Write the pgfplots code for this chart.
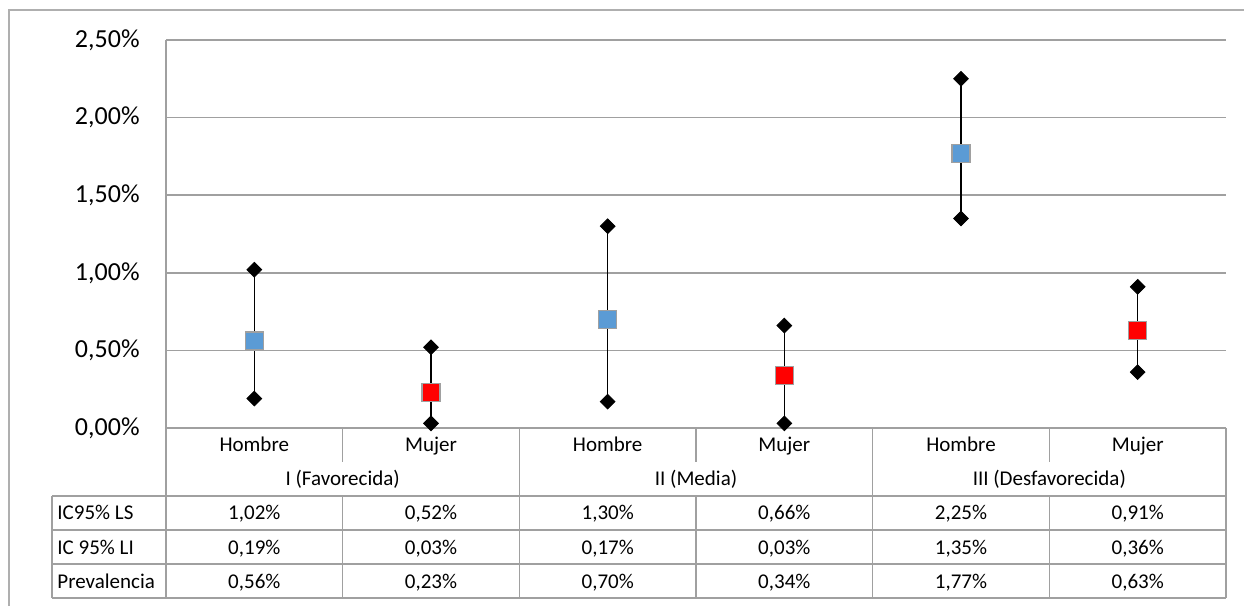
\documentclass[border=0pt]{standalone}
\usepackage{pgfplots}
\pgfplotsset{compat=1.18}
\usepackage{pgfplotstable}
\usepackage{fontspec}
\setmainfont{Carlito}
\definecolor{gridc}{RGB}{160,160,160}
\definecolor{framec}{RGB}{175,175,175}
\definecolor{hblue}{RGB}{91,155,213}
\definecolor{mred}{RGB}{255,0,0}
\definecolor{mkborder}{RGB}{160,160,160}

\pgfplotstableread{
x ls li prev
0 1.02 0.19 0.56
2 1.30 0.17 0.70
4 2.25 1.35 1.77
}\hombre
\pgfplotstableread{
x ls li prev
1 0.52 0.03 0.23
3 0.66 0.03 0.34
5 0.91 0.36 0.63
}\mujer

\begin{document}
\begin{tikzpicture}
\path[use as bounding box] (0,0) rectangle (622pt,303pt);
\begin{axis}[
  at={(83pt,89pt)}, anchor=south west,
  scale only axis, width=530pt, height=194pt,
  xmin=-0.5, xmax=5.5, ymin=0, ymax=2.5,
  axis x line*=bottom, axis y line*=left,
  axis line style={gridc, line width=0.75pt, -},
  xtick=\empty,
  ytick={0,0.5,1,1.5,2,2.5},
  yticklabels={{0,00\%},{0,50\%},{1,00\%},{1,50\%},{2,00\%},{2,50\%}},
  major tick length=0pt,
  ymajorgrids, grid style={gridc, line width=0.75pt},
  yticklabel style={font=\fontsize{13pt}{15pt}\selectfont, inner sep=0pt, xshift=-13pt},
  clip=false,
]
% high-low lines
\addplot[only marks, mark=none, forget plot,
  error bars/.cd, y dir=both, y explicit, error mark=none,
  error bar style={black, line width=0.75pt}]
  table[x=x, y=prev, y error plus expr=\thisrow{ls}-\thisrow{prev},
        y error minus expr=\thisrow{prev}-\thisrow{li}] {\hombre};
\addplot[only marks, mark=none, forget plot,
  error bars/.cd, y dir=both, y explicit, error mark=none,
  error bar style={black, line width=0.75pt}]
  table[x=x, y=prev, y error plus expr=\thisrow{ls}-\thisrow{prev},
        y error minus expr=\thisrow{prev}-\thisrow{li}] {\mujer};
% IC limits
\addplot[only marks, mark=square*, mark size=2.6pt, mark options={rotate=45, fill=black, draw=black}] table[x=x, y=ls] {\hombre};
\addplot[only marks, mark=square*, mark size=2.6pt, mark options={rotate=45, fill=black, draw=black}] table[x=x, y=li] {\hombre};
\addplot[only marks, mark=square*, mark size=2.6pt, mark options={rotate=45, fill=black, draw=black}] table[x=x, y=ls] {\mujer};
\addplot[only marks, mark=square*, mark size=2.6pt, mark options={rotate=45, fill=black, draw=black}] table[x=x, y=li] {\mujer};
% prevalence
\addplot[only marks, mark=square*, mark size=4.5pt, mark options={fill=hblue, draw=mkborder, line width=0.6pt}] table[x=x, y=prev] {\hombre};
\addplot[only marks, mark=square*, mark size=4.5pt, mark options={fill=mred, draw=mkborder, line width=0.6pt}] table[x=x, y=prev] {\mujer};
\end{axis}

\begin{scope}[x=0.5pt, y=-0.5pt, yshift=303pt]
  % outer frame
  \draw[framec, line width=0.75pt] (9,606) -- (9,10) -- (1244,10);
  % data table grid
  \begin{scope}[gridc, line width=0.75pt]
    \draw (166,428) -- (166,598);
    \draw (1226,428) -- (1226,598);
    \foreach \xx in {342.7,696,1049.3} {
      \draw (\xx,428) -- (\xx,462);
      \draw (\xx,496) -- (\xx,598);
    }
    \foreach \xx in {519.3,872.7} \draw (\xx,428) -- (\xx,598);
    \foreach \yy in {496,530,564,598} \draw (52,\yy) -- (1226,\yy);
    \draw (52,496) -- (52,598);
  \end{scope}
  \begin{scope}[font=\fontsize{10.5pt}{12pt}\selectfont, inner sep=0pt, every node/.style={anchor=base}]
    \node at (254.3,452) {Hombre};
    \node at (431,452) {Mujer};
    \node at (607.7,452) {Hombre};
    \node at (784.3,452) {Mujer};
    \node at (961,452) {Hombre};
    \node at (1137.7,452) {Mujer};
    \node at (342.7,486) {I (Favorecida)};
    \node at (696,486) {II (Media)};
    \node at (1049.3,486) {III (Desfavorecida)};
    \node[anchor=base west] at (57,520) {IC95\% LS};
    \node[anchor=base west] at (57,554) {IC 95\% LI};
    \node[anchor=base west] at (57,588) {Prevalencia};
    % IC95% LS
    \node at (254.3,520) {1,02\%};
    \node at (431,520) {0,52\%};
    \node at (607.7,520) {1,30\%};
    \node at (784.3,520) {0,66\%};
    \node at (961,520) {2,25\%};
    \node at (1137.7,520) {0,91\%};
    % IC 95% LI
    \node at (254.3,554) {0,19\%};
    \node at (431,554) {0,03\%};
    \node at (607.7,554) {0,17\%};
    \node at (784.3,554) {0,03\%};
    \node at (961,554) {1,35\%};
    \node at (1137.7,554) {0,36\%};
    % Prevalencia
    \node at (254.3,588) {0,56\%};
    \node at (431,588) {0,23\%};
    \node at (607.7,588) {0,70\%};
    \node at (784.3,588) {0,34\%};
    \node at (961,588) {1,77\%};
    \node at (1137.7,588) {0,63\%};
  \end{scope}
\end{scope}
\end{tikzpicture}
\end{document}
